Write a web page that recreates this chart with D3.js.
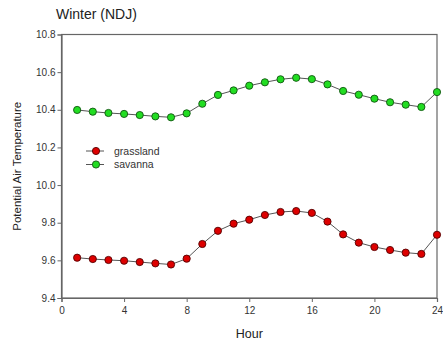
<!DOCTYPE html>
<html><head><meta charset="utf-8">
<script src="https://cdn.jsdelivr.net/npm/d3@7"></script>
<style>body{margin:0;background:#fff;} text{font-family:"Liberation Sans",Arial,sans-serif;}</style>
</head><body>
<svg id="c" width="443" height="349"></svg>
<script>
const hours = [1,2,3,4,5,6,7,8,9,10,11,12,13,14,15,16,17,18,19,20,21,22,23,24];
const grassland = [9.614,9.607,9.602,9.598,9.591,9.584,9.578,9.609,9.687,9.757,9.795,9.816,9.841,9.857,9.862,9.852,9.806,9.738,9.694,9.671,9.655,9.641,9.634,9.736];
const savanna = [10.399,10.390,10.383,10.378,10.372,10.365,10.360,10.381,10.432,10.479,10.503,10.528,10.546,10.562,10.570,10.563,10.535,10.500,10.480,10.459,10.440,10.427,10.415,10.494];
const xTicks = [0,4,8,12,16,20,24];
const yTicks = [9.4,9.6,9.8,10.0,10.2,10.4,10.6,10.8];
const seriesNames = ["grassland","savanna"];

const svg = d3.select("#c");
const L=61.5, R=437, T=34.5, B=298;
const x = d3.scaleLinear().domain([0,24]).range([L,R]);
const y = d3.scaleLinear().domain([9.4,10.8]).range([B,T]);

svg.append("rect").attr("x",L).attr("y",T).attr("width",R-L).attr("height",B-T)
  .attr("fill","none").attr("stroke","#666").attr("stroke-width",1.2);

const xa = svg.append("g").attr("transform",`translate(0,${B})`)
  .call(d3.axisBottom(x).tickValues(xTicks).tickSize(4).tickPadding(5).tickFormat(d3.format("d")));
const ya = svg.append("g").attr("transform",`translate(${L},0)`)
  .call(d3.axisLeft(y).tickValues(yTicks).tickSize(4).tickPadding(2).tickFormat(d3.format(".1f")));
[xa,ya].forEach(a=>{
  a.select(".domain").attr("stroke","#666").attr("stroke-width",1.2);
  a.selectAll(".tick line").attr("stroke","#666");
  a.selectAll(".tick text").attr("fill","#333").style("font-size","10px").style("font-family","'Liberation Sans',Arial,sans-serif");
});

const colors = {grassland:{fill:"#dd0000",stroke:"#550000"}, savanna:{fill:"#22dd22",stroke:"#115511"}};
const data = {grassland, savanna};
const line = d3.line().x((d,i)=>x(hours[i])).y(d=>y(d));
seriesNames.forEach(n=>{
  svg.append("path").datum(data[n]).attr("d",line).attr("fill","none").attr("stroke","#555").attr("stroke-width",1);
  svg.append("g").selectAll("circle").data(data[n]).join("circle")
    .attr("cx",(d,i)=>x(hours[i])).attr("cy",d=>y(d)).attr("r",3.6)
    .attr("fill",colors[n].fill).attr("stroke",colors[n].stroke).attr("stroke-width",0.9);
});

seriesNames.forEach((n,i)=>{
  const ly = 151 + i*13.5;
  svg.append("line").attr("x1",86).attr("x2",104).attr("y1",ly).attr("y2",ly).attr("stroke","#555");
  svg.append("circle").attr("cx",96).attr("cy",ly).attr("r",3.6)
    .attr("fill",colors[n].fill).attr("stroke",colors[n].stroke).attr("stroke-width",0.9);
  svg.append("text").attr("x",114).attr("y",ly+3.5).text(n).attr("fill","#333").style("font-size","10.5px");
});

svg.append("text").attr("x",56).attr("y",19).text("Winter (NDJ)").attr("fill","#222").style("font-size","14px");
svg.append("text").attr("x",(L+R)/2).attr("y",338).attr("text-anchor","middle").text("Hour").attr("fill","#222").style("font-size","12.5px");
svg.append("text").attr("transform",`translate(21,${(T+B)/2}) rotate(-90)`).attr("text-anchor","middle")
  .text("Potential Air Temperature").attr("fill","#222").style("font-size","11.5px");
</script>
</body></html>
